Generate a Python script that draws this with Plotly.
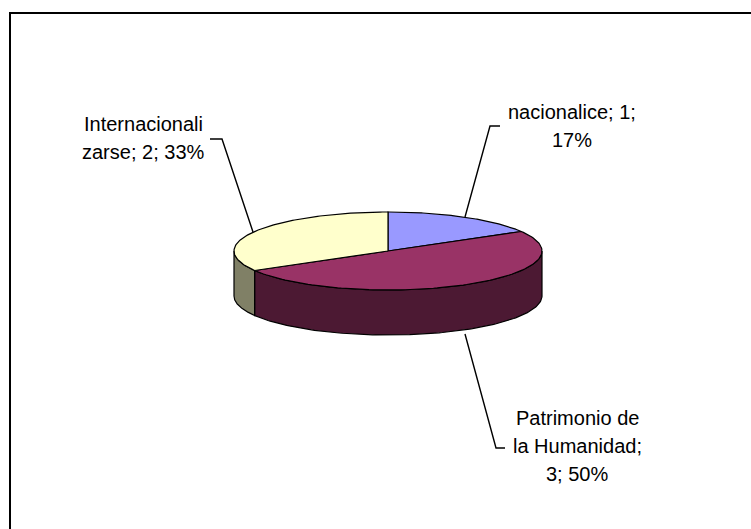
import numpy as np
import plotly.graph_objects as go

# ---- data ----
categories = ["nacionalice", "Patrimonio de la Humanidad", "Internacionalizarse"]
values = [1, 3, 2]
label_lines = [["nacionalice; 1;", "17%"],
               ["Patrimonio de", "la Humanidad;", "3; 50%"],
               ["Internacionali", "zarse; 2; 33%"]]
top_colors = ["#9999FF", "#993366", "#FFFFCC"]
side_colors = ["#4C4C80", "#4C1933", "#808066"]

# ---- geometry (pixel space) ----
W, H = 751, 529
cx, cy, rx, ry, depth = 388, 251, 154, 39, 45

def arc(a0, a1, dy=0, n=120):
    t = np.radians(np.linspace(a0, a1, n))
    return cx + rx * np.sin(t), cy - ry * np.cos(t) + dy

total = sum(values)
starts = np.cumsum([0] + values[:-1]) / total * 360
ends = np.cumsum(values) / total * 360

fig = go.Figure()

# sides (front half only: angles 90..270)
for i in range(len(values)):
    a, b = max(starts[i], 90), min(ends[i], 270)
    if b > a:
        xt, yt = arc(a, b)
        xb, yb = arc(b, a, depth)
        fig.add_trace(go.Scatter(x=np.r_[xt, xb, xt[0]], y=np.r_[yt, yb, yt[0]],
                                 mode="lines", fill="toself", fillcolor=side_colors[i],
                                 line=dict(color="black", width=1.2),
                                 hoverinfo="skip", showlegend=False))

# top faces
for i in range(len(values)):
    xt, yt = arc(starts[i], ends[i])
    fig.add_trace(go.Scatter(x=np.r_[cx, xt, cx], y=np.r_[cy, yt, cy],
                             mode="lines", fill="toself", fillcolor=top_colors[i],
                             line=dict(color="black", width=1.2),
                             name=categories[i], hoverinfo="name", showlegend=False))

# labels
font = dict(family="Liberation Sans, Arial, sans-serif", size=20, color="black")
label_pos = [(572, 112), (577, 418), (143, 124)]
line_gap = 28
annotations = []
for i, lines in enumerate(label_lines):
    lx, ly = label_pos[i]
    for k, txt in enumerate(lines):
        annotations.append(dict(x=lx, y=ly + k * line_gap, xref="x", yref="y",
                                text=txt, showarrow=False, font=font,
                                xanchor="center", yanchor="middle"))

# leader lines
leaders = [[(465, 217), (490, 126), (500, 126)],
           [(465, 334), (496, 448), (505, 448)],
           [(210, 139), (222, 139), (253, 232)]]
shapes = []
for pts in leaders:
    path = "M " + " L ".join(f"{x},{y}" for x, y in pts)
    shapes.append(dict(type="path", path=path, xref="x", yref="y",
                       line=dict(color="black", width=1.4)))
# chart frame
shapes.append(dict(type="rect", xref="x", yref="y", x0=10, y0=13, x1=W + 20, y1=H + 20,
                   line=dict(color="black", width=2), layer="above"))

fig.update_layout(
    width=W, height=H, margin=dict(l=0, r=0, t=0, b=0),
    paper_bgcolor="white", plot_bgcolor="white",
    xaxis=dict(range=[0, W], visible=False, fixedrange=True),
    yaxis=dict(range=[H, 0], visible=False, fixedrange=True),
    annotations=annotations, shapes=shapes,
)

fig.write_html("out.html", config={"displayModeBar": False},
               post_script="document.body.style.margin='0';document.body.style.overflow='hidden';")
